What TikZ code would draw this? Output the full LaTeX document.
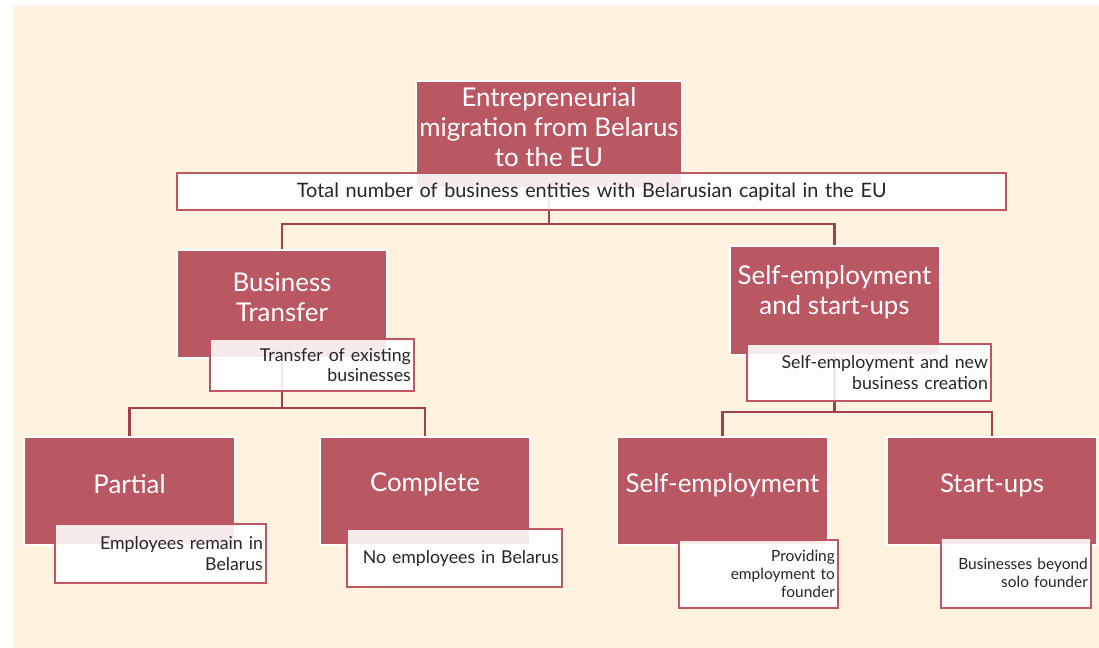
\documentclass[tikz,border=0pt]{standalone}
\usepackage{fontspec}
\setmainfont{Lato}
\usetikzlibrary{calc,positioning}
\definecolor{rosebox}{RGB}{185,87,98}
\definecolor{roseline}{RGB}{192,86,98}
\definecolor{linkcol}{RGB}{160,66,76}
\definecolor{cream}{RGB}{255,243,224}
\tikzset{
  head/.style={rectangle, fill=rosebox, draw=white, line width=1.5pt,
    minimum width=157.5pt, minimum height=81pt},
  headtxt/.style={text=white, align=center, inner sep=0pt,
    font=\fontsize{19.4}{22.5}\selectfont},
  note/.style={rectangle, anchor=north west, fill=white, fill opacity=0.88,
    text opacity=1, draw=roseline, line width=1.8pt, align=right,
    inner xsep=2.5pt, inner ysep=0pt, text=black!85,
    font=\fontsize{13.3}{15.5}\selectfont},
  small/.style={font=\fontsize{11.6}{13.5}\selectfont},
  link/.style={draw=linkcol, line width=1.8pt},
}

\begin{document}
\begin{tikzpicture}[x=0.75pt,y=-0.75pt]
  \useasboundingbox (0,0) rectangle (1099,648);
  \fill[white] (0,0) rectangle (1099,648);
  \fill[cream] (13,6) rectangle (1099,648);

  % top
  \node[head, minimum width=199.5pt, minimum height=80pt] (top) at (549,134.5) {};
  \node[headtxt] (topT) at ([yshift=5.5pt]top.center)
    {Entrepreneurial\\migration from Belarus\\to the EU};

  % level 1
  \node[head] (bt) at (282,304) {};
  \node[headtxt] (btT) at ([yshift=5pt]bt.center) {Business\\Transfer};
  \node[head, minimum height=81.75pt] (ses) at (834.5,300.5) {};
  \node[headtxt] (sesT) at ([yshift=6pt]ses.center) {Self-employment\\and start-ups};

  % level 2
  \node[head, minimum width=158.25pt] (par) at (129.5,491) {};
  \node[headtxt] (parT) at ([yshift=5pt]par.center) {Partial};
  \node[head] (com) at (425,491) {};
  \node[headtxt] (comT) at ([yshift=5pt]com.center) {Complete};
  \node[head, minimum width=158.25pt] (se) at (722.5,491) {};
  \node[headtxt] (seT) at ([yshift=4pt]se.center) {Self-employment};
  \node[head] (su) at (992,491) {};
  \node[headtxt] (suT) at ([yshift=4pt]su.center) {Start-ups};

  % connectors
  \coordinate (busT) at (548,224);
  \coordinate (busB) at (282,408);
  \coordinate (busS) at (835,412);
  \draw[link] (top.south) |- (busT) -| (bt.north);
  \draw[link] (busT) -| (ses.north);
  \draw[link] (bt.south) |- (busB) -| (par.north);
  \draw[link] (busB) -| (com.north);
  \draw[link] (ses.south) |- (busS) -| (se.north);
  \draw[link] (busS) -| (su.north);

  % notes
  \node[note, align=center, text width=616.75pt, minimum height=27.75pt,
    font=\fontsize{14.9}{17}\selectfont] (total) at (176,172)
    {Total number of business entities with Belarusian capital in the EU};
  \node[note, text width=148pt, minimum height=39pt] (btN) at (209,338)
    {Transfer of existing\\businesses};
  \node[note, text width=178pt, minimum height=42.75pt] (sesN) at (746,343)
    {Self-employment and new\\business creation};
  \node[note, text width=153.25pt, minimum height=44.25pt] (parN) at (54,523)
    {Employees remain in\\Belarus};
  \node[note, text width=156.25pt, minimum height=43.5pt] (comN) at (346,528)
    {No employees in Belarus};
  \node[note, small, text width=114.25pt, minimum height=51pt] (seN) at (678,539)
    {Providing\\employment to\\founder};
  \node[note, small, text width=107.5pt, minimum height=52.5pt] (suN) at (940,537)
    {Businesses beyond\\solo founder};
\end{tikzpicture}
\end{document}
